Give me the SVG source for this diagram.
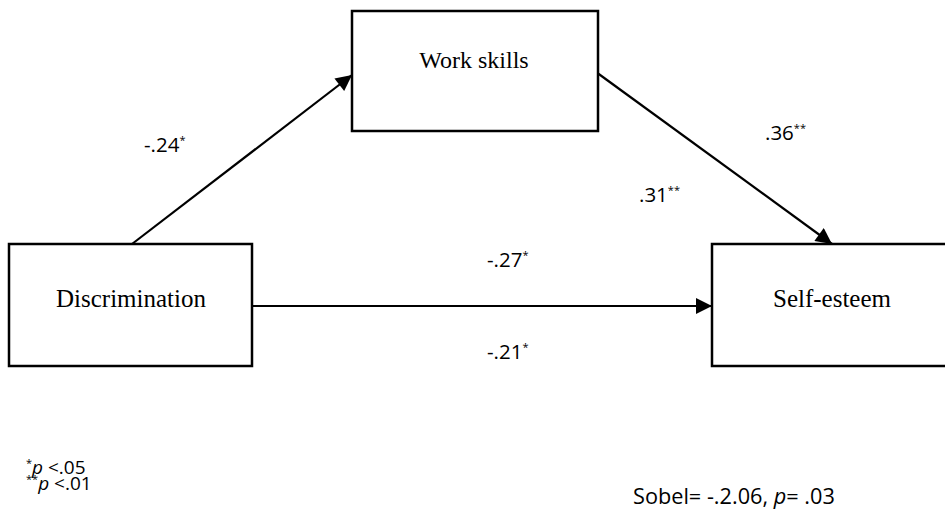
<svg xmlns="http://www.w3.org/2000/svg" width="945" height="510" viewBox="0 0 945 510">
<style>
.box{fill:#fff;stroke:#000;stroke-width:2.5}
.edge{stroke:#000;stroke-width:2.2;fill:none}
.node{font-family:"Liberation Serif","DejaVu Serif",serif;fill:#000}
.lbl{font-family:"Open Sans","Liberation Sans",sans-serif;font-size:20.5px;fill:#000}
.sup{font-size:11px}
.note{font-family:"Open Sans","Liberation Sans",sans-serif;font-size:19px;fill:#000}
.sobel{font-family:"Open Sans","Liberation Sans",sans-serif;font-size:21.7px;fill:#000}
</style>
<defs>
<marker id="arrB" viewBox="0 0 10 10" refX="10" refY="5" markerWidth="20" markerHeight="16" markerUnits="userSpaceOnUse" orient="auto">
<path d="M0,0 L10,5 L0,10 z" fill="#000"/>
</marker>
</defs>
<g id="connectors">
<line class="edge" x1="132" y1="244" x2="352" y2="75" marker-end="url(#arrB)"/>
<line class="edge" x1="596" y1="72" x2="832" y2="244" marker-end="url(#arrB)"/>
<line class="edge" x1="252" y1="306" x2="712" y2="306" marker-end="url(#arrB)"/>
</g>
<g id="workskills">
<rect class="box" x="352" y="11" width="246" height="120"/>
<text class="node" x="474" y="68" font-size="24" text-anchor="middle">Work skills</text>
</g>
<g id="discrimination">
<rect class="box" x="9" y="244" width="243" height="122"/>
<text class="node" x="131" y="307" font-size="25" text-anchor="middle">Discrimination</text>
</g>
<g id="selfesteem">
<rect class="box" x="712" y="244" width="240" height="122"/>
<text class="node" x="832" y="307" font-size="25" text-anchor="middle">Self-esteem</text>
</g>
<g id="labels">
<text class="lbl" x="144" y="152">-.24<tspan class="sup" dy="-8">*</tspan></text>
<text class="lbl" x="765" y="140">.36<tspan class="sup" dy="-8">**</tspan></text>
<text class="lbl" x="639" y="202">.31<tspan class="sup" dy="-8">**</tspan></text>
<text class="lbl" x="487" y="267">-.27<tspan class="sup" dy="-8">*</tspan></text>
<text class="lbl" x="487" y="359">-.21<tspan class="sup" dy="-8">*</tspan></text>
</g>
<g id="notes">
<text class="note" x="26" y="474"><tspan class="sup" dy="-7">*</tspan><tspan dy="7" font-style="italic">p</tspan> &lt;.05</text>
<text class="note" x="26" y="490"><tspan class="sup" dy="-7">**</tspan><tspan dy="7" font-style="italic">p</tspan> &lt;.01</text>
<text class="sobel" x="633" y="504">Sobel= -.2.06, <tspan font-style="italic">p</tspan>= .03</text>
</g>
</svg>
